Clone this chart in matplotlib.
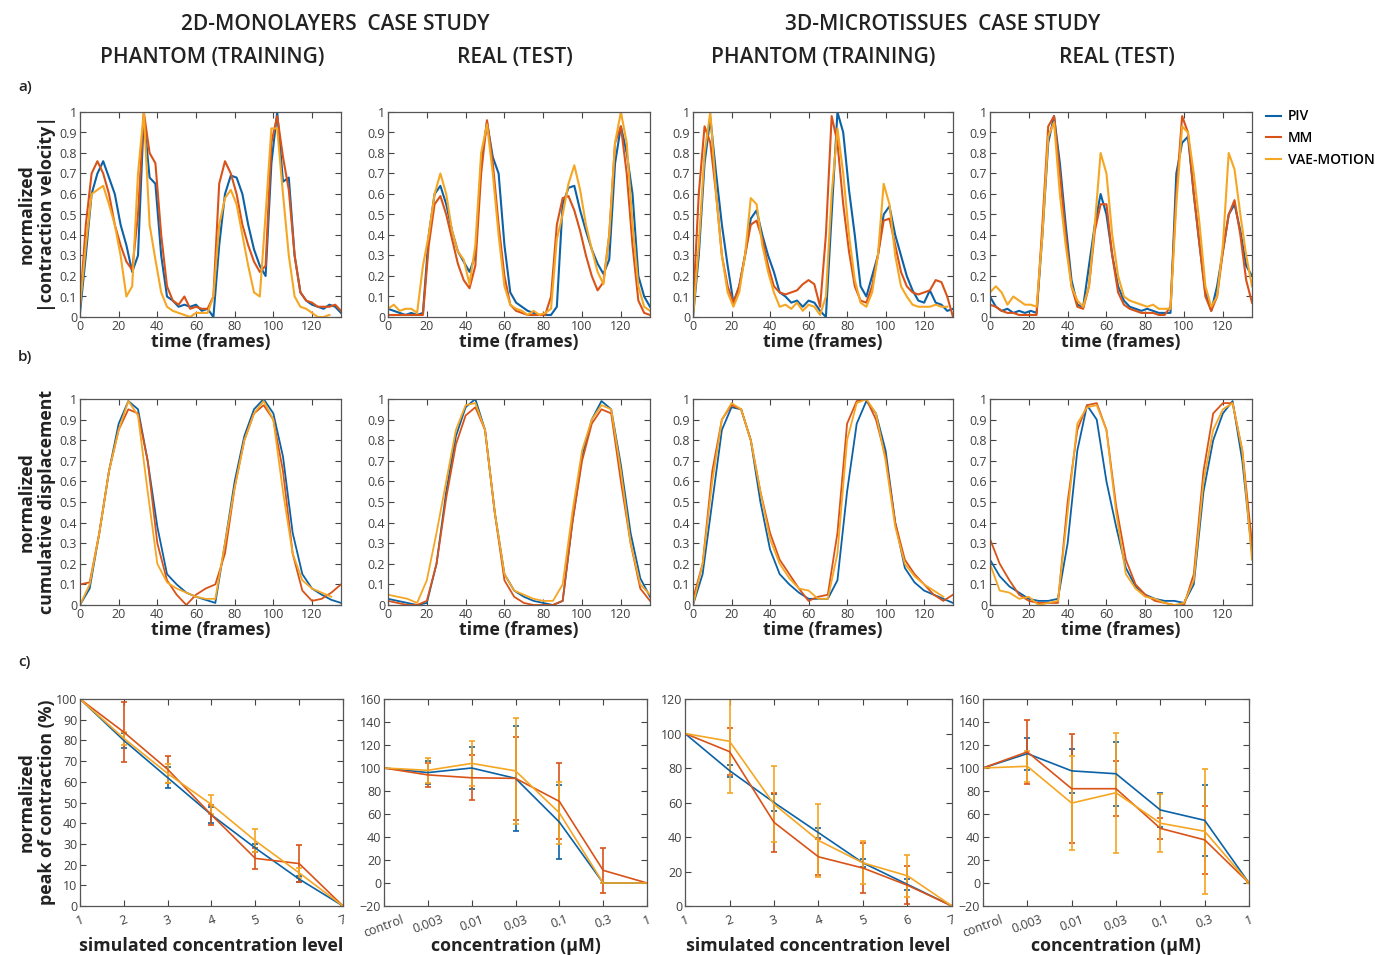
import numpy as np
import matplotlib.pyplot as plt

plt.rcParams['font.family'] = ['Open Sans', 'DejaVu Sans']

methods = ['PIV', 'MM', 'VAE-MOTION']
colors = ['#0B62A6', '#D95319', '#F5A623']

# sampling grids (frames) used when reading the curves off the figure
t_vel = np.arange(0, 136, 3)
t_disp = np.arange(0, 136, 5)

# ---- row a: normalized |contraction velocity| ----
vel_2d_phantom_piv = [0.02, 0.3, 0.6, 0.7, 0.76, 0.68, 0.6, 0.45, 0.35, 0.22, 0.3, 0.98, 0.68, 0.65, 0.3, 0.1,
                      0.08, 0.05, 0.06, 0.05, 0.06, 0.03, 0.04, 0.0, 0.35, 0.6, 0.69, 0.68, 0.6, 0.45, 0.33, 0.25,
                      0.2, 0.75, 1.0, 0.66, 0.68, 0.3, 0.12, 0.08, 0.06, 0.05, 0.04, 0.06, 0.05, 0.02]
vel_2d_phantom_mm = [0.05, 0.45, 0.7, 0.76, 0.7, 0.6, 0.45, 0.35, 0.27, 0.23, 0.5, 1.0, 0.8, 0.75, 0.4, 0.15,
                     0.08, 0.06, 0.1, 0.04, 0.05, 0.04, 0.04, 0.1, 0.65, 0.76, 0.7, 0.6, 0.45, 0.35, 0.27, 0.22,
                     0.25, 0.85, 0.98, 0.78, 0.62, 0.3, 0.12, 0.08, 0.07, 0.05, 0.05, 0.05, 0.06, 0.03]
vel_2d_phantom_vae = [0.05, 0.35, 0.6, 0.62, 0.64, 0.55, 0.45, 0.3, 0.1, 0.15, 0.7, 1.0, 0.45, 0.28, 0.12, 0.05,
                      0.03, 0.02, 0.01, 0.0, 0.02, 0.02, 0.02, 0.1, 0.45, 0.58, 0.62, 0.55, 0.4, 0.25, 0.12, 0.1,
                      0.5, 0.92, 0.92, 0.6, 0.3, 0.1, 0.05, 0.04, 0.02, 0.0, 0.0, 0.01]

vel_2d_real_piv = [0.04, 0.03, 0.02, 0.01, 0.02, 0.01, 0.02, 0.4, 0.6, 0.64, 0.55, 0.42, 0.32, 0.27, 0.22, 0.3,
                   0.75, 0.95, 0.78, 0.7, 0.35, 0.12, 0.07, 0.05, 0.03, 0.02, 0.01, 0.01, 0.01, 0.05, 0.55, 0.63,
                   0.64, 0.52, 0.42, 0.33, 0.26, 0.21, 0.28, 0.75, 0.93, 0.8, 0.6, 0.2, 0.1, 0.05]
vel_2d_real_mm = [0.01, 0.01, 0.01, 0.01, 0.01, 0.01, 0.01, 0.35, 0.55, 0.59, 0.5, 0.38, 0.26, 0.18, 0.14, 0.25,
                  0.7, 0.96, 0.75, 0.45, 0.2, 0.06, 0.03, 0.02, 0.01, 0.01, 0.01, 0.01, 0.1, 0.45, 0.58, 0.59,
                  0.52, 0.42, 0.3, 0.2, 0.13, 0.17, 0.4, 0.85, 0.93, 0.7, 0.35, 0.08, 0.02, 0.01]
vel_2d_real_vae = [0.04, 0.06, 0.03, 0.04, 0.04, 0.02, 0.25, 0.4, 0.6, 0.7, 0.6, 0.42, 0.32, 0.28, 0.16, 0.35,
                   0.8, 0.94, 0.7, 0.4, 0.15, 0.06, 0.04, 0.03, 0.01, 0.03, 0.01, 0.02, 0.04, 0.38, 0.5, 0.65,
                   0.74, 0.62, 0.45, 0.33, 0.22, 0.16, 0.4, 0.85, 1.0, 0.85, 0.45, 0.15, 0.05, 0.03]

vel_3d_phantom_piv = [0.0, 0.3, 0.75, 0.97, 0.7, 0.45, 0.25, 0.07, 0.15, 0.3, 0.48, 0.52, 0.4, 0.3, 0.22, 0.12,
                      0.1, 0.07, 0.08, 0.05, 0.08, 0.07, 0.03, 0.0, 0.5, 1.0, 0.9, 0.62, 0.4, 0.15, 0.1, 0.2,
                      0.3, 0.5, 0.54, 0.4, 0.3, 0.2, 0.13, 0.08, 0.07, 0.13, 0.07, 0.06, 0.03, 0.04]
vel_3d_phantom_mm = [0.05, 0.6, 0.93, 0.85, 0.6, 0.3, 0.15, 0.07, 0.15, 0.3, 0.45, 0.47, 0.38, 0.25, 0.15, 0.12,
                     0.11, 0.12, 0.13, 0.16, 0.18, 0.16, 0.05, 0.4, 0.98, 0.85, 0.55, 0.32, 0.15, 0.08, 0.07, 0.15,
                     0.3, 0.47, 0.48, 0.35, 0.22, 0.15, 0.12, 0.11, 0.12, 0.13, 0.18, 0.17, 0.1, 0.0]
vel_3d_phantom_vae = [0.0, 0.35, 0.8, 1.0, 0.6, 0.3, 0.12, 0.05, 0.12, 0.3, 0.58, 0.55, 0.35, 0.22, 0.12, 0.05,
                      0.06, 0.04, 0.07, 0.03, 0.06, 0.05, 0.01, 0.1, 0.6, 0.92, 0.7, 0.4, 0.18, 0.07, 0.05, 0.12,
                      0.3, 0.65, 0.55, 0.3, 0.15, 0.1, 0.06, 0.05, 0.05, 0.05, 0.06, 0.05, 0.05]

vel_3d_real_piv = [0.1, 0.05, 0.03, 0.04, 0.02, 0.03, 0.02, 0.03, 0.02, 0.4, 0.85, 0.98, 0.75, 0.45, 0.18, 0.06,
                   0.05, 0.25, 0.45, 0.6, 0.5, 0.3, 0.15, 0.08, 0.05, 0.04, 0.03, 0.04, 0.03, 0.02, 0.02, 0.02,
                   0.7, 0.85, 0.88, 0.6, 0.35, 0.12, 0.03, 0.15, 0.32, 0.5, 0.55, 0.42, 0.25, 0.2]
vel_3d_real_mm = [0.06, 0.05, 0.03, 0.02, 0.02, 0.01, 0.01, 0.01, 0.01, 0.45, 0.93, 0.98, 0.7, 0.4, 0.15, 0.05,
                  0.04, 0.15, 0.42, 0.55, 0.55, 0.3, 0.12, 0.06, 0.04, 0.03, 0.02, 0.02, 0.02, 0.01, 0.01, 0.05,
                  0.6, 0.98, 0.9, 0.6, 0.35, 0.1, 0.03, 0.1, 0.32, 0.5, 0.57, 0.4, 0.18, 0.07]
vel_3d_real_vae = [0.12, 0.15, 0.12, 0.06, 0.1, 0.08, 0.06, 0.06, 0.05, 0.4, 0.88, 0.95, 0.6, 0.35, 0.15, 0.08,
                   0.05, 0.15, 0.45, 0.8, 0.7, 0.4, 0.2, 0.1, 0.08, 0.07, 0.06, 0.05, 0.06, 0.04, 0.04, 0.04,
                   0.55, 0.93, 0.9, 0.7, 0.45, 0.15, 0.05, 0.1, 0.35, 0.8, 0.72, 0.5, 0.3, 0.15]

# ---- row b: normalized cumulative displacement ----
disp_2d_phantom_piv = [0.0, 0.08, 0.35, 0.65, 0.88, 0.99, 0.95, 0.7, 0.38, 0.15, 0.1, 0.06, 0.04, 0.025, 0.01, 0.3,
                       0.6, 0.82, 0.95, 1.0, 0.93, 0.72, 0.35, 0.15, 0.08, 0.05, 0.025, 0.01]
disp_2d_phantom_mm = [0.1, 0.11, 0.35, 0.65, 0.85, 0.95, 0.93, 0.7, 0.3, 0.12, 0.05, 0.0, 0.05, 0.08, 0.1, 0.25,
                      0.57, 0.8, 0.93, 0.97, 0.9, 0.65, 0.25, 0.07, 0.02, 0.03, 0.06, 0.1]
disp_2d_phantom_vae = [0.0, 0.1, 0.35, 0.65, 0.85, 0.99, 0.92, 0.55, 0.2, 0.11, 0.08, 0.06, 0.04, 0.03, 0.03, 0.3,
                       0.57, 0.8, 0.93, 0.99, 0.9, 0.55, 0.25, 0.12, 0.08, 0.06, 0.04]

disp_2d_real_piv = [0.03, 0.02, 0.01, 0.0, 0.01, 0.2, 0.55, 0.82, 0.96, 1.0, 0.85, 0.45, 0.15, 0.07, 0.04, 0.02,
                    0.01, 0.0, 0.02, 0.4, 0.72, 0.9, 0.99, 0.95, 0.68, 0.35, 0.13, 0.04]
disp_2d_real_mm = [0.02, 0.01, 0.0, 0.0, 0.02, 0.2, 0.52, 0.78, 0.92, 0.96, 0.85, 0.45, 0.12, 0.04, 0.01, 0.0,
                   0.0, 0.0, 0.02, 0.4, 0.7, 0.88, 0.95, 0.93, 0.6, 0.3, 0.08, 0.02]
disp_2d_real_vae = [0.05, 0.04, 0.03, 0.01, 0.12, 0.35, 0.6, 0.85, 0.97, 0.98, 0.85, 0.45, 0.15, 0.07, 0.05, 0.03,
                    0.02, 0.02, 0.1, 0.45, 0.75, 0.9, 0.97, 0.95, 0.65, 0.3, 0.1, 0.05]

disp_3d_phantom_piv = [0.0, 0.15, 0.5, 0.85, 0.96, 0.95, 0.8, 0.5, 0.27, 0.15, 0.1, 0.06, 0.03, 0.03, 0.03, 0.12,
                       0.55, 0.88, 0.99, 0.93, 0.75, 0.4, 0.18, 0.11, 0.07, 0.05, 0.03, 0.01]
disp_3d_phantom_mm = [0.03, 0.2, 0.65, 0.9, 0.97, 0.95, 0.8, 0.55, 0.35, 0.22, 0.15, 0.08, 0.02, 0.04, 0.05, 0.35,
                      0.88, 0.99, 1.0, 0.9, 0.72, 0.4, 0.22, 0.15, 0.1, 0.05, 0.02, 0.05]
disp_3d_phantom_vae = [0.0, 0.2, 0.6, 0.9, 0.98, 0.95, 0.8, 0.55, 0.32, 0.2, 0.13, 0.08, 0.07, 0.03, 0.03, 0.25,
                       0.8, 0.98, 1.0, 0.93, 0.7, 0.38, 0.2, 0.14, 0.1, 0.07, 0.04]

disp_3d_real_piv = [0.22, 0.14, 0.09, 0.06, 0.03, 0.02, 0.02, 0.03, 0.3, 0.75, 0.97, 0.9, 0.6, 0.38, 0.18, 0.09,
                    0.05, 0.03, 0.02, 0.02, 0.01, 0.1, 0.55, 0.8, 0.93, 0.99, 0.7, 0.25]
disp_3d_real_mm = [0.32, 0.2, 0.12, 0.05, 0.02, 0.01, 0.01, 0.01, 0.5, 0.85, 0.97, 0.98, 0.85, 0.48, 0.22, 0.1,
                   0.05, 0.02, 0.01, 0.0, 0.0, 0.15, 0.65, 0.93, 0.98, 0.98, 0.75, 0.3]
disp_3d_real_vae = [0.2, 0.07, 0.06, 0.03, 0.04, 0.0, 0.01, 0.02, 0.45, 0.88, 0.96, 0.97, 0.85, 0.45, 0.15, 0.08,
                    0.04, 0.03, 0.01, 0.0, 0.01, 0.12, 0.6, 0.85, 0.95, 0.98, 0.75, 0.22]

# ---- row c: normalized peak of contraction (%) ----
levels = ['1', '2', '3', '4', '5', '6', '7']
concentrations = ['control', '0.003', '0.01', '0.03', '0.1', '0.3', '1']

peak_2d_phantom_piv = [100, 80, 62, 44, 28, 13, 0]
peak_2d_phantom_piv_err = [0, 3.5, 5, 4, 2, 1.5, 0]
peak_2d_phantom_mm = [100, 84, 66, 44, 23, 20.5, 0]
peak_2d_phantom_mm_err = [0, 14.5, 6.5, 5, 5, 9, 0]
peak_2d_phantom_vae = [100, 81, 64, 49, 31.5, 16, 0]
peak_2d_phantom_vae_err = [0, 3, 4.5, 4.5, 5.5, 2.5, 0]

peak_2d_real_piv = [100, 96, 100, 91, 53, 0, 0]
peak_2d_real_piv_err = [0, 10, 18.5, 45.5, 32.5, 0, 0]
peak_2d_real_mm = [100, 94, 91.5, 91, 71, 11, 0]
peak_2d_real_mm_err = [0, 10.5, 19.5, 36, 33, 19.5, 0]
peak_2d_real_vae = [100, 98, 104, 97.5, 61, 0, 0]
peak_2d_real_vae_err = [0, 11, 19.5, 46, 27, 0, 0]

peak_3d_phantom_piv = [100, 78.5, 60, 42.5, 25, 12.5, 0]
peak_3d_phantom_piv_err = [0, 3.5, 5, 3, 2.5, 3, 0]
peak_3d_phantom_mm = [100, 89.5, 48.5, 28.5, 22, 12, 0]
peak_3d_phantom_mm_err = [0, 13.5, 17, 10.5, 14.5, 11, 0]
peak_3d_phantom_vae = [100, 95.5, 59, 38, 25, 17.5, 0]
peak_3d_phantom_vae_err = [0, 30, 22, 21, 12.5, 12, 0]

peak_3d_real_piv = [100, 112.5, 97.5, 95, 63.5, 54.5, 0]
peak_3d_real_piv_err = [0, 14, 19, 28, 14.5, 31, 0]
peak_3d_real_mm = [100, 114, 82, 82, 47.5, 37.5, 0]
peak_3d_real_mm_err = [0, 28, 47.5, 24, 9, 29.5, 0]
peak_3d_real_vae = [100, 101.5, 69.5, 78.5, 52, 45, 0]
peak_3d_real_vae_err = [0, 13.5, 41, 52, 25, 54.5, 0]

W, H = 1375, 955
fig = plt.figure(figsize=(W / 100, H / 100), dpi=100)


def add_axes(x0, y0, x1, y1):
    return fig.add_axes([x0 / W, 1 - y1 / H, (x1 - x0) / W, (y1 - y0) / H])


def style(ax):
    ax.tick_params(direction='in', top=True, right=True, length=4, width=0.8,
                   color='#444444', labelcolor='#404040', labelsize=9, pad=2)
    for s in ax.spines.values():
        s.set_color('#555555')
        s.set_linewidth(0.9)


LABEL_FS = 12.8
label_kw = dict(fontsize=LABEL_FS, fontweight='bold', color='#222222')

cols_ab = [(80, 341), (388, 650), (693, 953), (990, 1252)]
cols_c = [(80, 343), (384, 647), (685, 952), (983, 1249)]

vel_sets = [
    (vel_2d_phantom_piv, vel_2d_phantom_mm, vel_2d_phantom_vae),
    (vel_2d_real_piv, vel_2d_real_mm, vel_2d_real_vae),
    (vel_3d_phantom_piv, vel_3d_phantom_mm, vel_3d_phantom_vae),
    (vel_3d_real_piv, vel_3d_real_mm, vel_3d_real_vae),
]
disp_sets = [
    (disp_2d_phantom_piv, disp_2d_phantom_mm, disp_2d_phantom_vae),
    (disp_2d_real_piv, disp_2d_real_mm, disp_2d_real_vae),
    (disp_3d_phantom_piv, disp_3d_phantom_mm, disp_3d_phantom_vae),
    (disp_3d_real_piv, disp_3d_real_mm, disp_3d_real_vae),
]
peak_sets = [
    ((peak_2d_phantom_piv, peak_2d_phantom_piv_err), (peak_2d_phantom_mm, peak_2d_phantom_mm_err),
     (peak_2d_phantom_vae, peak_2d_phantom_vae_err)),
    ((peak_2d_real_piv, peak_2d_real_piv_err), (peak_2d_real_mm, peak_2d_real_mm_err),
     (peak_2d_real_vae, peak_2d_real_vae_err)),
    ((peak_3d_phantom_piv, peak_3d_phantom_piv_err), (peak_3d_phantom_mm, peak_3d_phantom_mm_err),
     (peak_3d_phantom_vae, peak_3d_phantom_vae_err)),
    ((peak_3d_real_piv, peak_3d_real_piv_err), (peak_3d_real_mm, peak_3d_real_mm_err),
     (peak_3d_real_vae, peak_3d_real_vae_err)),
]

yticks01 = np.round(np.arange(0, 1.01, 0.1), 1)
ytick01_labels = ['0'] + ['%.1f' % v for v in yticks01[1:-1]] + ['1']

handles = []
for i, (x0, x1) in enumerate(cols_ab):
    # row a
    ax = add_axes(x0, 112, x1, 317)
    for series, c in zip(vel_sets[i], colors):
        ln, = ax.plot(t_vel[:len(series)], series, color=c, lw=1.5)
        if i == 0:
            handles.append(ln)
    ax.set_xlim(0, 135)
    ax.set_ylim(0, 1)
    ax.set_xticks(range(0, 121, 20))
    ax.set_yticks(yticks01)
    ax.set_yticklabels(ytick01_labels)
    ax.set_xlabel('time (frames)', labelpad=0, **label_kw)
    style(ax)
    if i == 0:
        ax.set_ylabel('normalized\n|contraction velocity|', linespacing=1.15, **label_kw)
        ax.yaxis.set_label_coords(-0.092, 0.5)

    # row b
    ax = add_axes(x0, 399, x1, 605)
    for series, c in zip(disp_sets[i], colors):
        ax.plot(t_disp[:len(series)], series, color=c, lw=1.3)
    ax.set_xlim(0, 135)
    ax.set_ylim(0, 1)
    ax.set_xticks(range(0, 121, 20))
    ax.set_yticks(yticks01)
    ax.set_yticklabels(ytick01_labels)
    ax.set_xlabel('time (frames)', labelpad=0, **label_kw)
    style(ax)
    if i == 0:
        ax.set_ylabel('normalized\ncumulative displacement', linespacing=1.15, **label_kw)
        ax.yaxis.set_label_coords(-0.092, 0.5)

# row c
c_ylims = [(0, 100), (-20, 160), (0, 120), (-20, 160)]
c_ysteps = [10, 20, 20, 20]
c_xlabels = ['simulated concentration level', 'concentration (\u00b5M)',
             'simulated concentration level', 'concentration (\u00b5M)']
c_ticklabels = [levels, concentrations, levels, concentrations]
xpos = np.arange(1, 8)
for i, (x0, x1) in enumerate(cols_c):
    ax = add_axes(x0, 699, x1, 906)
    for (vals, err), c in zip(peak_sets[i], colors):
        ax.errorbar(xpos, vals, yerr=err, color=c, lw=1.2, elinewidth=1.2, capsize=2.5, capthick=1.2)
    lo, hi = c_ylims[i]
    ax.set_xlim(1, 7)
    ax.set_ylim(lo, hi)
    ax.set_yticks(range(lo, hi + 1, c_ysteps[i]))
    ax.set_xticks(xpos)
    ax.set_xticklabels(c_ticklabels[i], rotation=20, ha='center')
    style(ax)
    ax.tick_params(axis='x', pad=5)
    ax.set_xlabel(c_xlabels[i], **label_kw)
    ax.xaxis.set_label_coords(0.5, -0.15)
    if i == 0:
        ax.set_ylabel('normalized\npeak of contraction (%)', linespacing=1.15, **label_kw)
        ax.yaxis.set_label_coords(-0.092, 0.5)

fig.legend(handles, methods, loc='upper left', bbox_to_anchor=(1253 / W, 1 - 97 / H), frameon=False,
           handlelength=1.1, handletextpad=0.5, labelspacing=0.55, prop={'size': 10, 'weight': 'semibold'})

# headers
hdr = dict(fontsize=15, fontweight='semibold', color='#222222', ha='center', va='center')
fig.text(335 / W, 1 - 25 / H, '2D-MONOLAYERS  CASE STUDY', **hdr)
fig.text(943 / W, 1 - 25 / H, '3D-MICROTISSUES  CASE STUDY', **hdr)
fig.text(212 / W, 1 - 57 / H, 'PHANTOM (TRAINING)', **hdr)
fig.text(515 / W, 1 - 57 / H, 'REAL (TEST)', **hdr)
fig.text(823 / W, 1 - 57 / H, 'PHANTOM (TRAINING)', **hdr)
fig.text(1117 / W, 1 - 57 / H, 'REAL (TEST)', **hdr)

lab = dict(fontsize=11, fontweight='semibold', color='#222222', ha='left', va='center')
fig.text(18 / W, 1 - 87 / H, 'a)', **lab)
fig.text(18 / W, 1 - 357 / H, 'b)', **lab)
fig.text(18 / W, 1 - 662 / H, 'c)', **lab)

fig.savefig('out.png', dpi=100)
plt.close(fig)
